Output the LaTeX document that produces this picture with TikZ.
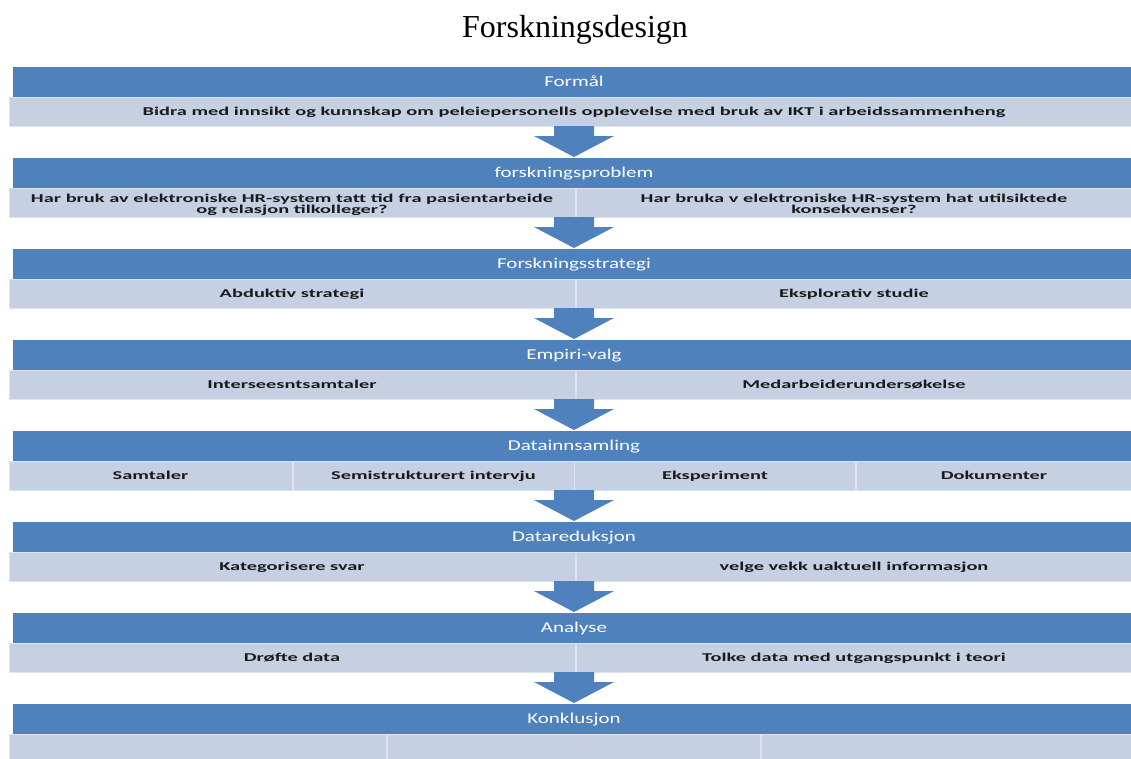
\documentclass[tikz,border=0pt]{standalone}
\usepackage{fontspec}
\setmainfont{Liberation Serif}
\newfontfamily\hdrfont[FakeStretch=1.4]{Carlito}
\newfontfamily\cellfont[FakeStretch=1.7]{Carlito}
\usetikzlibrary{calc}
\definecolor{barblue}{HTML}{4F81BD}
\definecolor{celllight}{HTML}{C5D0E3}
\definecolor{celledge}{HTML}{DCE3EF}
\definecolor{celltext}{HTML}{1A1A1A}
\tikzset{
  hdrbar/.style={fill=barblue, draw=none, inner sep=0pt, outer sep=0pt,
    minimum height=30pt, text height=11.5pt, text depth=3.5pt, text=white,
    font={\hdrfont\fontsize{15}{16}\selectfont}},
  cellbox/.style={fill=celllight, draw=celledge, line width=1pt, inner sep=0pt,
    outer sep=0pt, minimum height=29pt, text height=10.5pt, text depth=2pt,
    text=celltext, align=center,
    font={\cellfont\bfseries\fontsize{12}{11}\selectfont}},
  twoline/.style={text height=24.5pt, text depth=2.5pt},
  blockarrow/.style={fill=barblue, draw=none}
}
% down block arrow from the bottom of one row to the header of the next
\newcommand{\downarrowblock}[2]{%
  \fill[blockarrow] ($(#1)+(-20,0)$) -- ($(#1)+(20,0)$) -- ($(#1)+(20,10)$)
    -- ($(#1)+(40,10)$) -- ($(#2.north)+(0,-1)$) -- ($(#1)+(-40,10)$)
    -- ($(#1)+(-20,10)$) -- cycle;}
\begin{document}
\begin{tikzpicture}[x=1pt,y=-1pt]
\useasboundingbox (0,0) rectangle (1131,758);
\fill[white] (0,0) rectangle (1131,758);

\node[anchor=base, font=\fontsize{32}{34}\selectfont] (title) at (575,37) {Forskningsdesign};

% header bars
\foreach \k/\txt in {0/Formål, 1/forskningsproblem, 2/Forskningsstrategi,
  3/Empiri-valg, 4/Datainnsamling, 5/Datareduksjon, 6/Analyse, 7/Konklusjon}{
  \node[hdrbar, minimum width=1122pt] (h\k) at (574,{82+91*\k}) {\txt};
}

% row 0
\node[cellbox, minimum width=1122pt] (c0a) at (570,111.5)
  {\hspace*{8pt}Bidra med innsikt og kunnskap om peleiepersonells opplevelse med bruk av IKT i arbeidssammenheng};
% row 1
\node[cellbox, minimum width=566pt] (c1a) at (292,202.5) {};
\node[cellbox, minimum width=556pt] (c1b) at (854,202.5) {};
\node[cellbox, twoline, draw=none, fill=none] (t1a) at (c1a.center)
  {Har bruk av elektroniske HR-system tatt tid fra pasientarbeide\\og relasjon tilkolleger?};
\node[cellbox, twoline, draw=none, fill=none] (t1b) at (c1b.center)
  {Har bruka v elektroniske HR-system hat utilsiktede\\konsekvenser?};
% row 2
\node[cellbox, minimum width=566pt] (c2a) at (292,293.5) {Abduktiv strategi};
\node[cellbox, minimum width=556pt] (c2b) at (854,293.5) {Eksplorativ studie};
% row 3
\node[cellbox, minimum width=566pt] (c3a) at (292,384.5) {Interseesntsamtaler};
\node[cellbox, minimum width=556pt] (c3b) at (854,384.5) {Medarbeiderundersøkelse};
% row 4
\node[cellbox, minimum width=283pt] (c4a) at (150.5,475.5) {Samtaler};
\node[cellbox, minimum width=281pt] (c4b) at (433.5,475.5) {Semistrukturert intervju};
\node[cellbox, minimum width=281pt] (c4c) at (715,475.5) {Eksperiment};
\node[cellbox, minimum width=276pt] (c4d) at (994,475.5) {Dokumenter};
% row 5
\node[cellbox, minimum width=566pt] (c5a) at (292,566.5) {Kategorisere svar};
\node[cellbox, minimum width=556pt] (c5b) at (854,566.5) {velge vekk uaktuell informasjon};
% row 6
\node[cellbox, minimum width=566pt] (c6a) at (292,657.5) {Drøfte data};
\node[cellbox, minimum width=556pt] (c6b) at (854,657.5) {Tolke data med utgangspunkt i teori};
% row 7
\node[cellbox, minimum width=377pt] (c7a) at (197.5,748.5) {};
\node[cellbox, minimum width=373pt] (c7b) at (573.5,748.5) {};
\node[cellbox, minimum width=370pt] (c7c) at (946,748.5) {};

% arrows between the rows
\foreach \k/\n/\c in {0/1/c0a, 1/2/c1a, 2/3/c2a, 3/4/c3a, 4/5/c4a, 5/6/c5a, 6/7/c6a}{
  \coordinate (a\k) at (h\k.center |- \c.south);
  \downarrowblock{a\k}{h\n}
}
\end{tikzpicture}
\end{document}
